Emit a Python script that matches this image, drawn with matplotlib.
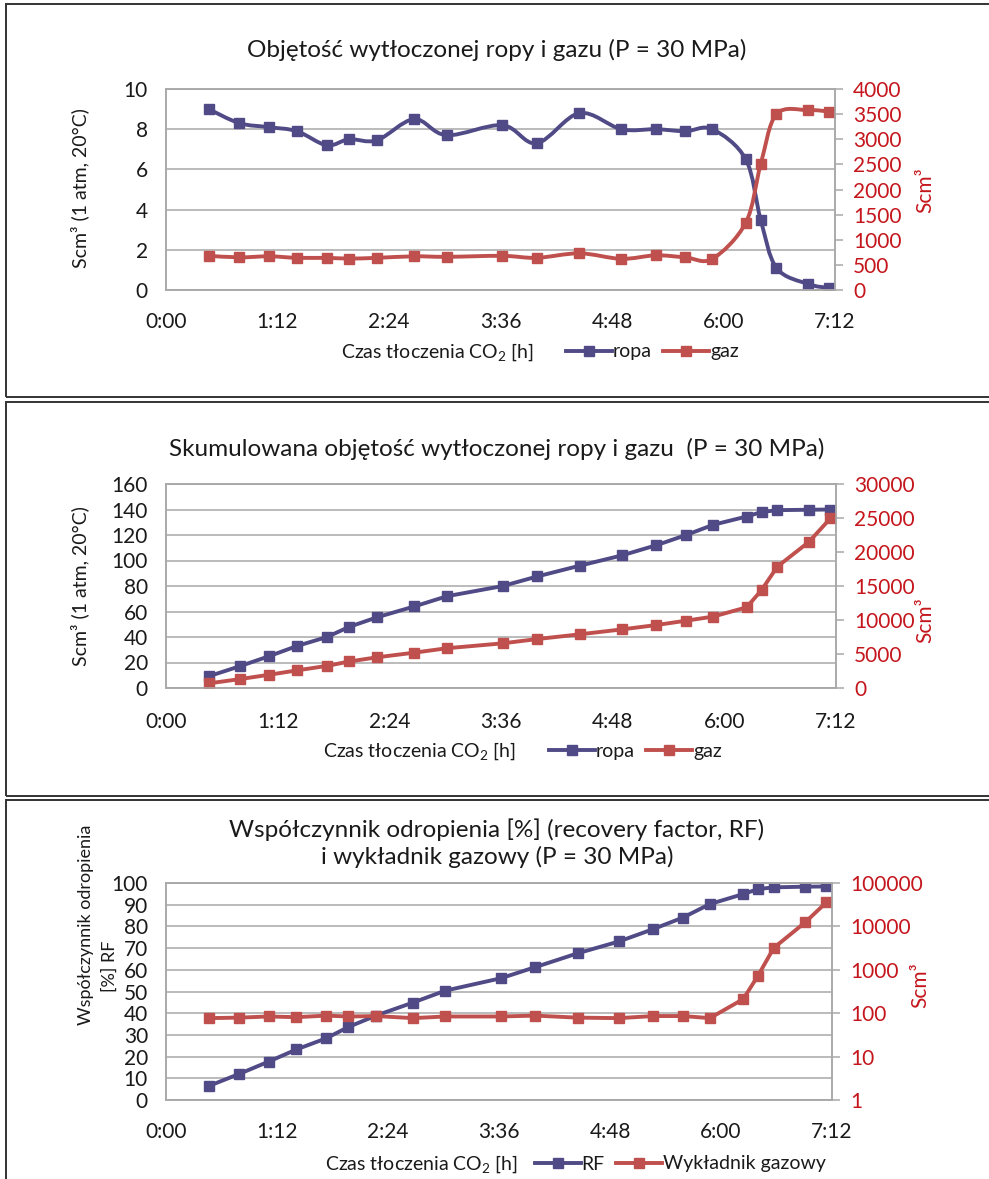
import matplotlib
matplotlib.use("Agg")
import matplotlib.pyplot as plt
from matplotlib.path import Path
from matplotlib.patches import PathPatch, Rectangle
from matplotlib.lines import Line2D
import numpy as np

plt.rcParams['font.family'] = ['Lato', 'DejaVu Sans']
plt.rcParams['mathtext.fontset'] = 'custom'
plt.rcParams['mathtext.rm'] = 'Lato'
plt.rcParams['mathtext.it'] = 'Lato'

# ---------------- data ----------------
hours = [0.46, 0.79, 1.11, 1.41, 1.73, 1.97, 2.27, 2.67, 3.02, 3.62, 3.99,
         4.45, 4.90, 5.27, 5.59, 5.88, 6.24, 6.40, 6.57, 6.91, 7.14]
ropa = [9.0, 8.3, 8.1, 7.9, 7.2, 7.5, 7.45, 8.5, 7.7, 8.2, 7.3,
        8.8, 8.0, 8.0, 7.9, 8.0, 6.5, 3.5, 1.1, 0.3, 0.1]
gaz = [680, 650, 670, 640, 640, 625, 640, 670, 660, 680, 640,
       730, 620, 690, 650, 620, 1340, 2500, 3500, 3580, 3550]
ropa_cum = [9.2, 17, 25, 33, 40, 48, 55.5, 64, 72, 80, 87.5,
            96, 104, 112, 120, 128, 134.5, 138, 139.5, 139.8, 140]
gaz_cum = [680, 1300, 1950, 2600, 3250, 3900, 4520, 5200, 5850, 6570, 7200,
           7900, 8620, 9260, 9900, 10500, 11870, 14400, 17850, 21500, 24950]
rf = [6.4, 12.0, 17.7, 23.3, 28.4, 33.6, 38.9, 44.9, 50.4, 56.1, 61.2,
      67.6, 73.1, 78.8, 84.1, 90.3, 94.9, 97.2, 98.0, 98.3, 98.4]
wykladnik = [77, 79, 84, 81, 88, 84, 86, 77, 84, 84, 88,
             79, 77, 86, 86, 77, 211, 730, 3190, 12400, 36000]

xticks = [0, 1.2, 2.4, 3.6, 4.8, 6.0, 7.2]
xticklabels = ['0:00', '1:12', '2:24', '3:36', '4:48', '6:00', '7:12']

titles = ['Objętość wytłoczonej ropy i gazu (P = 30 MPa)',
          'Skumulowana objętość wytłoczonej ropy i gazu  (P = 30 MPa)',
          'Współczynnik odropienia [%] (recovery factor, RF)\ni wykładnik gazowy (P = 30 MPa)']

# ---------------- style ----------------
W, H = 989, 1179
PURPLE = '#504B86'
RED = '#C0504D'
TICKRED = '#C4161C'
GRID = '#A8A8A8'
TXT = '#1a1a1a'
LW = 2.8
MS = 7.5
TFS = 15
LFS = 14
TTL = 17.5

fig = plt.figure(figsize=(W / 100, H / 100), dpi=100)


def fbox(left, top, right, bottom):
    return [left / W, 1 - bottom / H, (right - left) / W, (bottom - top) / H]


def smooth_path(x, y):
    n = len(x)
    verts = [(x[0], y[0])]
    codes = [Path.MOVETO]
    for i in range(n - 1):
        xa, ya = (x[i - 1], y[i - 1]) if i > 0 else (x[i], y[i])
        xd, yd = (x[i + 2], y[i + 2]) if i + 2 < n else (x[i + 1], y[i + 1])
        c1 = (x[i] + (x[i + 1] - xa) / 6, y[i] + (y[i + 1] - ya) / 6)
        c2 = (x[i + 1] - (xd - x[i]) / 6, y[i + 1] - (yd - y[i]) / 6)
        verts += [c1, c2, (x[i + 1], y[i + 1])]
        codes += [Path.CURVE4] * 3
    return Path(verts, codes)


def style_axes(ax, ax2, xpad):
    ax.set_xlim(0, 7.2)
    ax.set_xticks(xticks)
    ax.set_xticklabels(xticklabels)
    ax.tick_params(axis='x', length=0, pad=xpad, labelsize=TFS, colors=TXT)
    ax.tick_params(axis='y', length=0, pad=13, labelsize=TFS, colors=TXT)
    ax.grid(axis='y', color=GRID, lw=1.1)
    ax.set_axisbelow(True)
    for s in ax.spines.values():
        s.set_color(GRID)
        s.set_linewidth(1.1)
    for s in ax2.spines.values():
        s.set_color(GRID)
        s.set_linewidth(1.1)
    ax2.tick_params(axis='y', direction='out', length=6, width=1.1, color=GRID,
                    pad=7, labelsize=TFS, labelcolor=TICKRED)
    ax2.tick_params(axis='y', which='minor', length=0)


def panel_frame(top, bottom):
    fig.patches.append(Rectangle((6 / W, 1 - bottom / H), 1.2, (bottom - top) / H,
                                 transform=fig.transFigure, fill=False,
                                 edgecolor='#333333', lw=1.4))


def legend_line(y_px, x_label, x_leg, labels, colors):
    fig.text(x_label / W, 1 - y_px / H, 'Czas tłoczenia CO$_2$ [h]', ha='left', va='center',
             fontsize=LFS, color=TXT)
    handles = [Line2D([], [], color=c, lw=LW, marker='s', ms=MS, mec=c, mfc=c) for c in colors]
    fig.legend(handles, labels, loc='center left', bbox_to_anchor=(x_leg / W, 1 - y_px / H),
               ncol=len(labels), frameon=False, fontsize=LFS, handlelength=2.35,
               handletextpad=0.05, columnspacing=0.6, borderpad=0, borderaxespad=0,
               labelcolor=TXT)


# ---------------- panel 1 ----------------
panel_frame(4, 397)
ax = fig.add_axes(fbox(166, 89, 835, 290))
ax2 = ax.twinx()
ax.add_patch(PathPatch(smooth_path(hours, ropa), fill=False, edgecolor=PURPLE, lw=LW,
                       capstyle='round', joinstyle='round'))
ax.plot(hours, ropa, ls='none', marker='s', ms=MS, color=PURPLE)
ax2.add_patch(PathPatch(smooth_path(hours, gaz), fill=False, edgecolor=RED, lw=LW,
                        capstyle='round', joinstyle='round'))
ax2.plot(hours, gaz, ls='none', marker='s', ms=MS, color=RED)
ax.set_ylim(0, 10)
ax.set_yticks(range(0, 11, 2))
ax2.set_ylim(0, 4000)
ax2.set_yticks(range(0, 4001, 500))
style_axes(ax, ax2, 16)
fig.text(497 / W, 1 - 50 / H, titles[0], ha='center', va='center', fontsize=TTL, color=TXT)
fig.text(80 / W, 1 - 188 / H, 'Scm³ (1 atm, 20°C)', rotation=90, ha='center', va='center',
         fontsize=LFS, color=TXT)
fig.text(925 / W, 1 - 190 / H, 'Scm³', rotation=90, ha='center', va='center',
         fontsize=TFS, color=TICKRED)
legend_line(352, 341, 566, ['ropa', 'gaz'], [PURPLE, RED])

# ---------------- panel 2 ----------------
panel_frame(402, 796)
ax = fig.add_axes(fbox(166, 484, 836, 688))
ax2 = ax.twinx()
ax.plot(hours, ropa_cum, marker='s', ms=MS, color=PURPLE, lw=LW)
ax2.plot(hours, gaz_cum, marker='s', ms=MS, color=RED, lw=LW)
ax.set_ylim(0, 160)
ax.set_yticks(range(0, 161, 20))
ax2.set_ylim(0, 30000)
ax2.set_yticks(range(0, 30001, 5000))
style_axes(ax, ax2, 17)
fig.text(497 / W, 1 - 449 / H, titles[1], ha='center', va='center', fontsize=TTL, color=TXT)
fig.text(80 / W, 1 - 586 / H, 'Scm³ (1 atm, 20°C)', rotation=90, ha='center', va='center',
         fontsize=LFS, color=TXT)
fig.text(925 / W, 1 - 620 / H, 'Scm³', rotation=90, ha='center', va='center',
         fontsize=TFS, color=TICKRED)
legend_line(751, 323, 549, ['ropa', 'gaz'], [PURPLE, RED])

# ---------------- panel 3 ----------------
panel_frame(800, 1250)
ax = fig.add_axes(fbox(166, 883, 832, 1100))
ax2 = ax.twinx()
ax.plot(hours, rf, marker='s', ms=MS, color=PURPLE, lw=LW)
ax2.plot(hours, wykladnik, marker='s', ms=MS, color=RED, lw=LW)
ax.set_ylim(0, 100)
ax.set_yticks(range(0, 101, 10))
ax2.set_yscale('log')
ax2.set_ylim(1, 100000)
ax2.set_yticks([1, 10, 100, 1000, 10000, 100000])
ax2.set_yticklabels(['1', '10', '100', '1000', '10000', '100000'])
style_axes(ax, ax2, 16)
fig.text(497 / W, 1 - 843 / H, titles[2], ha='center', va='center', fontsize=TTL, color=TXT,
         linespacing=1.3)
fig.text(86 / W, 1 - 925 / H, 'Współczynnik odropienia', rotation=90, ha='center',
         va='center', fontsize=13, color=TXT)
fig.text(110 / W, 1 - 966 / H, '[%] RF', rotation=90, ha='center',
         va='center', fontsize=13, color=TXT)
fig.text(920 / W, 1 - 985 / H, 'Scm³', rotation=90, ha='center', va='center',
         fontsize=TFS, color=TICKRED)
legend_line(1164, 325, 535, ['RF', 'Wykładnik gazowy'], [PURPLE, RED])

fig.savefig('out.png', dpi=100)
